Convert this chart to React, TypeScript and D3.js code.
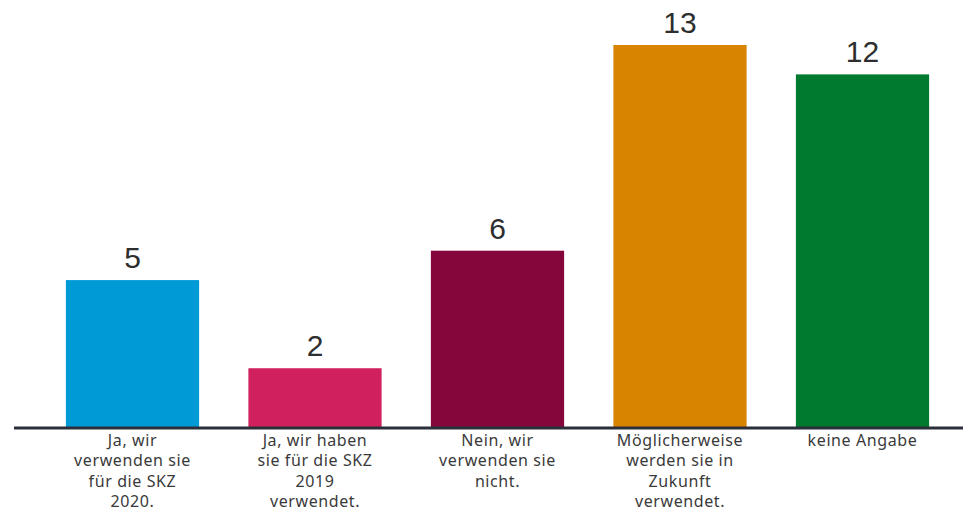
import React from 'react';
import * as d3 from 'd3';

const WIDTH = 963;
const HEIGHT = 512;

const categories = [
  'Ja, wir verwenden sie für die SKZ 2020.',
  'Ja, wir haben sie für die SKZ 2019 verwendet.',
  'Nein, wir verwenden sie nicht.',
  'Möglicherweise werden sie in Zukunft verwendet.',
  'keine Angabe',
];
// line breaks as shown under each bar
const categoryLines = [
  ['Ja, wir', 'verwenden sie', 'für die SKZ', '2020.'],
  ['Ja, wir haben', 'sie für die SKZ', '2019', 'verwendet.'],
  ['Nein, wir', 'verwenden sie', 'nicht.'],
  ['Möglicherweise', 'werden sie in', 'Zukunft', 'verwendet.'],
  ['keine Angabe'],
];
const values = [5, 2, 6, 13, 12];
const colors = ['#009bd6', '#d0215e', '#84063a', '#d98400', '#007a2f'];

const App = () => {
  const baseline = 427;

  const xScale = d3.scaleBand<string>()
    .domain(categories)
    .range([41.25, 953.75])
    .paddingInner(0.27)
    .paddingOuter(0.135);

  const yScale = d3.scaleLinear()
    .domain([0, 13])
    .range([baseline, 45]);

  const axisLine = d3.line()([[14, baseline + 1], [WIDTH, baseline + 1]]);

  return (
    <svg width={WIDTH} height={HEIGHT} style={{ position: 'absolute', left: 0, top: 0, background: '#fff' }}>
      {categories.map((c, i) => {
        const x = xScale(c) ?? 0;
        const cx = x + xScale.bandwidth() / 2;
        return (
          <g key={c}>
            <rect x={x} y={yScale(values[i])} width={xScale.bandwidth()} height={yScale(0) - yScale(values[i])} fill={colors[i]} />
            <text x={cx} y={yScale(values[i]) - 12} textAnchor='middle'
              style={{ fontFamily: '"Liberation Sans", Arial, sans-serif', fontSize: '30px', fill: '#2e2e2e' }}>
              {values[i]}
            </text>
            <text textAnchor='middle' style={{ fontFamily: '"Noto Sans", sans-serif', fontSize: '16px', letterSpacing: '0.6px', fill: '#3a3a3a' }}>
              {categoryLines[i].map((line, j) => (
                <tspan key={j} x={cx} y={baseline + 19 + j * 20.3}>{line}</tspan>
              ))}
            </text>
          </g>
        );
      })}
      <path d={axisLine ?? ''} stroke='#2b2f3a' strokeWidth='3' fill='none' />
    </svg>
  );
};

export default App;
